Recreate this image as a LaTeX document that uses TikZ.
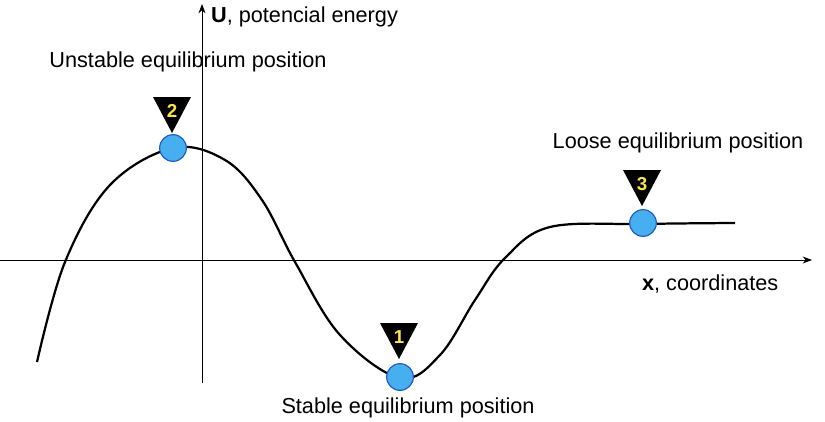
\documentclass[tikz,border=0pt]{standalone}
\usepackage{fontspec}
\setmainfont{Liberation Sans}
\usetikzlibrary{arrows.meta}
\definecolor{ballc}{RGB}{70,175,240}
\definecolor{ballb}{RGB}{30,90,200}
\definecolor{numc}{RGB}{250,230,60}
\begin{document}
\begin{tikzpicture}[x=0.03cm,y=-0.03cm,
 lbl/.style={font=\fontsize{18.5}{22}\selectfont},
 ball/.style={circle,draw=ballb,fill=ballc,line width=1pt,minimum size=0.8cm,inner sep=0},
 tri/.style={fill=black},
 num/.style={font=\bfseries\fontsize{16}{18}\selectfont,text=numc}]
\useasboundingbox (0,0) rectangle (825,421);
\coordinate (xl) at (0,260); \coordinate (xr) at (812,260);
\coordinate (yb) at (202,383); \coordinate (yt) at (202,4);
\draw[-{Stealth[length=8pt]},line width=0.7pt] (xl) -- (xr);
\draw[-{Stealth[length=8pt]},line width=0.7pt] (yb) -- (yt);
\node[lbl,anchor=west] (ul) at (207,17) {\textbf{U}, potencial energy};
\node[lbl,anchor=west] (xlab) at (638,284) {\textbf{x}, coordinates};
\draw[line width=1.9pt] plot[smooth,tension=0.6] coordinates {(37,362) (65,262) (110,185) (173,148) (225,160) (262,200) (295,262) (340,335) (400,378) (440,355) (475,300) (505,258) (550,227) (643,224) (735,223)};
\node[ball] (b2) at (173,148) {};
\node[ball] (b1) at (400,377) {};
\node[ball] (b3) at (643,223) {};
\foreach \n/\x/\y in {2/172/97,1/399/323,3/642/170}{
 \fill[tri] (\x-19,\y) -- (\x+19,\y) -- (\x,\y+36) -- cycle;
 \node[num] (t\n) at (\x,\y+14) {\n};}
\node[lbl] (s2) at (188,62) {Unstable equilibrium position};
\node[lbl] (s3) at (678,143) {Loose equilibrium position};
\node[lbl] (s1) at (408,408) {Stable equilibrium position};
\end{tikzpicture}
\end{document}
